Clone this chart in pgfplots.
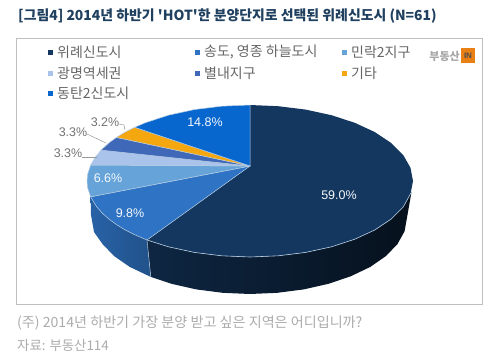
\documentclass[border=0pt]{standalone}
\usepackage{fontspec}
\setmainfont{Noto Sans CJK KR}
\newfontfamily\pctfont{Liberation Sans}
\usepackage{pgfplots}
\pgfplotsset{compat=1.18}
\definecolor{cA}{HTML}{14375F}
\definecolor{cB}{HTML}{2F74C4}
\definecolor{cC}{HTML}{65A3D8}
\definecolor{cD}{HTML}{A9C3EA}
\definecolor{cE}{HTML}{3F68B8}
\definecolor{cF}{HTML}{F5A70F}
\definecolor{cG}{HTML}{0767CF}
\definecolor{edge}{HTML}{B4CBE2}
\definecolor{leg}{HTML}{666666}
\definecolor{note}{HTML}{ABABAB}
\definecolor{ttl}{HTML}{20405F}
\tikzset{
  lbl/.style={font=\pctfont\fontsize{12.5}{14}\selectfont,text=white!88!cD,inner sep=0pt},
  olbl/.style={font=\pctfont\fontsize{12.5}{14}\selectfont,text=black!55,inner sep=0pt},
  lg/.style={font=\fontsize{14}{16}\selectfont,text=leg,anchor=west,inner sep=0pt}}
\begin{document}
\begin{tikzpicture}
\path[use as bounding box] (0,0) rectangle (500pt,360pt);
\begin{axis}[scale only axis,width=500pt,height=360pt,xmin=0,xmax=500,ymin=0,ymax=360,y dir=reverse,hide axis,clip=false]
% frame
\addplot[draw=black!25,line width=1pt] coordinates {(16,38.5) (482,38.5) (482,304) (16,304)} --cycle;
% side faces
\addplot[draw=none,shade,left color=cB!85!black,right color=cB!70!black] coordinates {
(147,240) (145.2,239.2) (134.7,234.7) (125.1,229.9) (116.5,224.6) (108.8,219) (102.3,213.1) (96.8,207) (90.6,196.8)
(91,215) (94,232) (102.5,244) (114,256) (129.7,266.9) (150.8,276.9)} --cycle;
\addplot[draw=none,shade,left color=cA!70!black,right color=cA!30!black] coordinates {
(411.5,192) (403.2,207) (391.2,219) (374.9,229.9) (354.8,239.2) (331.5,246.8) (305.7,252.4) (278.3,255.8) (250,257) (221.7,255.8) (194.3,252.4) (168.5,246.8) (147,240)
(150.8,276.9) (171.5,283.8) (196.3,289.4) (222.7,292.8) (250,294) (277.3,292.8) (303.7,289.4) (328.5,283.8) (350.9,276.2) (370.3,266.9) (386,256) (397.5,244) (404.6,231.2)} --cycle;
\addplot[draw=edge,line width=0.5pt] coordinates {(147,240) (150.8,276.9)};
% top faces
\addplot[fill=cA,draw=none] coordinates {(250,166) (250,105) (278.3,106.2) (305.7,109.6) (331.5,115.2) (354.8,122.8) (374.9,132.1) (391.2,143) (403.2,155) (410.5,167.8) (413,181) (410.5,194.2) (403.2,207) (391.2,219) (374.9,229.9) (354.8,239.2) (331.5,246.8) (305.7,252.4) (278.3,255.8) (250,257) (221.7,255.8) (194.3,252.4) (168.5,246.8) (147,240)} --cycle;
\addplot[fill=cB,draw=edge,line width=0.5pt] coordinates {(250,166) (147,240) (134.7,234.7) (125.1,229.9) (116.5,224.6) (108.8,219) (102.3,213.1) (96.8,207) (90.6,196.8)} --cycle;
\addplot[fill=cC,draw=edge,line width=0.5pt] coordinates {(250,166) (90.6,196.8) (87.6,187.6) (87,181) (87.6,174.4) (90.7,165)} --cycle;
\addplot[fill=cD,draw=edge,line width=0.5pt] coordinates {(250,166) (90.7,165) (95,157.5) (101.1,150.1)} --cycle;
\addplot[fill=cE,draw=edge,line width=0.5pt] coordinates {(250,166) (101.1,150.1) (108.8,143) (116.5,137.4)} --cycle;
\addplot[fill=cF,draw=edge,line width=0.5pt] coordinates {(250,166) (116.5,137.4) (125.1,132.1) (134.7,127.3)} --cycle;
\addplot[fill=cG,draw=edge,line width=0.5pt] coordinates {(250,166) (134.7,127.3) (145.2,122.8) (168.5,115.2) (194.3,109.6) (221.7,106.2) (250,105)} --cycle;
% rim highlight of the front
\addplot[draw=edge,line width=0.6pt] coordinates {(411.5,192) (403.2,207) (391.2,219) (374.9,229.9) (354.8,239.2) (331.5,246.8) (305.7,252.4) (278.3,255.8) (250,257) (221.7,255.8) (194.3,252.4) (168.5,246.8) (147,240)};
% leader lines
\addplot[draw=black!40,line width=0.5pt] coordinates {(119,124) (124,125) (125,130)};
\addplot[draw=black!40,line width=0.5pt] coordinates {(87,134) (106,143)};
\addplot[draw=black!40,line width=0.5pt] coordinates {(82,157) (97,157)};
% legend markers
\addplot[only marks,mark=square*,mark size=1.9pt,mark options={draw=cA,fill=cA}] coordinates {(50,52.5)};
\addplot[only marks,mark=square*,mark size=1.9pt,mark options={draw=cB,fill=cB}] coordinates {(197,52.5)};
\addplot[only marks,mark=square*,mark size=1.9pt,mark options={draw=cC,fill=cC}] coordinates {(344,52.5)};
\addplot[only marks,mark=square*,mark size=1.9pt,mark options={draw=cD,fill=cD}] coordinates {(50,73)};
\addplot[only marks,mark=square*,mark size=1.9pt,mark options={draw=cE,fill=cE}] coordinates {(197,73)};
\addplot[only marks,mark=square*,mark size=1.9pt,mark options={draw=cF,fill=cF}] coordinates {(344,73)};
\addplot[only marks,mark=square*,mark size=1.9pt,mark options={draw=cG,fill=cG}] coordinates {(50,93)};
% legend text
\node[lg] at (axis cs:57,52.5) {위례신도시};
\node[lg] at (axis cs:204,52.5) {송도, 영종 하늘도시};
\node[lg] at (axis cs:351,52.5) {민락2지구};
\node[lg] at (axis cs:57,73) {광명역세권};
\node[lg] at (axis cs:204,73) {별내지구};
\node[lg] at (axis cs:351,73) {기타};
\node[lg] at (axis cs:57,93) {동탄2신도시};
% value labels
\node[lbl] at (axis cs:339,195) {59.0\%};
\node[lbl] at (axis cs:205,122) {14.8\%};
\node[lbl] at (axis cs:130,213) {9.8\%};
\node[lbl] at (axis cs:108,178) {6.6\%};
\node[olbl] at (axis cs:105,122) {3.2\%};
\node[olbl] at (axis cs:73,132) {3.3\%};
\node[olbl] at (axis cs:68,153) {3.3\%};
% logo
\node[font=\bfseries\fontsize{11}{12}\selectfont,text=black!35,anchor=east,inner sep=0pt] at (axis cs:460,56) {부동산};
\node[fill=orange!65!brown,text=black!70,font=\pctfont\bfseries\fontsize{8}{9}\selectfont,minimum width=14pt,minimum height=15pt,inner sep=0pt] at (axis cs:468,55.5) {IN};
% title and notes
\node[font=\bfseries\fontsize{13.9}{16}\selectfont,text=ttl,anchor=west,inner sep=0pt] at (axis cs:18,16.5) {[그림4] 2014년 하반기 \textquotesingle HOT\textquotesingle 한 분양단지로 선택된 위례신도시 (N=61)};
\node[font=\fontsize{14.1}{16}\selectfont,text=note,anchor=west,inner sep=0pt] at (axis cs:17,323) {(주) 2014년 하반기 가장 분양 받고 싶은 지역은 어디입니까?};
\node[font=\fontsize{13.4}{15}\selectfont,text=note,anchor=west,inner sep=0pt] at (axis cs:17,345) {자료: 부동산114};
\end{axis}
\end{tikzpicture}
\end{document}
